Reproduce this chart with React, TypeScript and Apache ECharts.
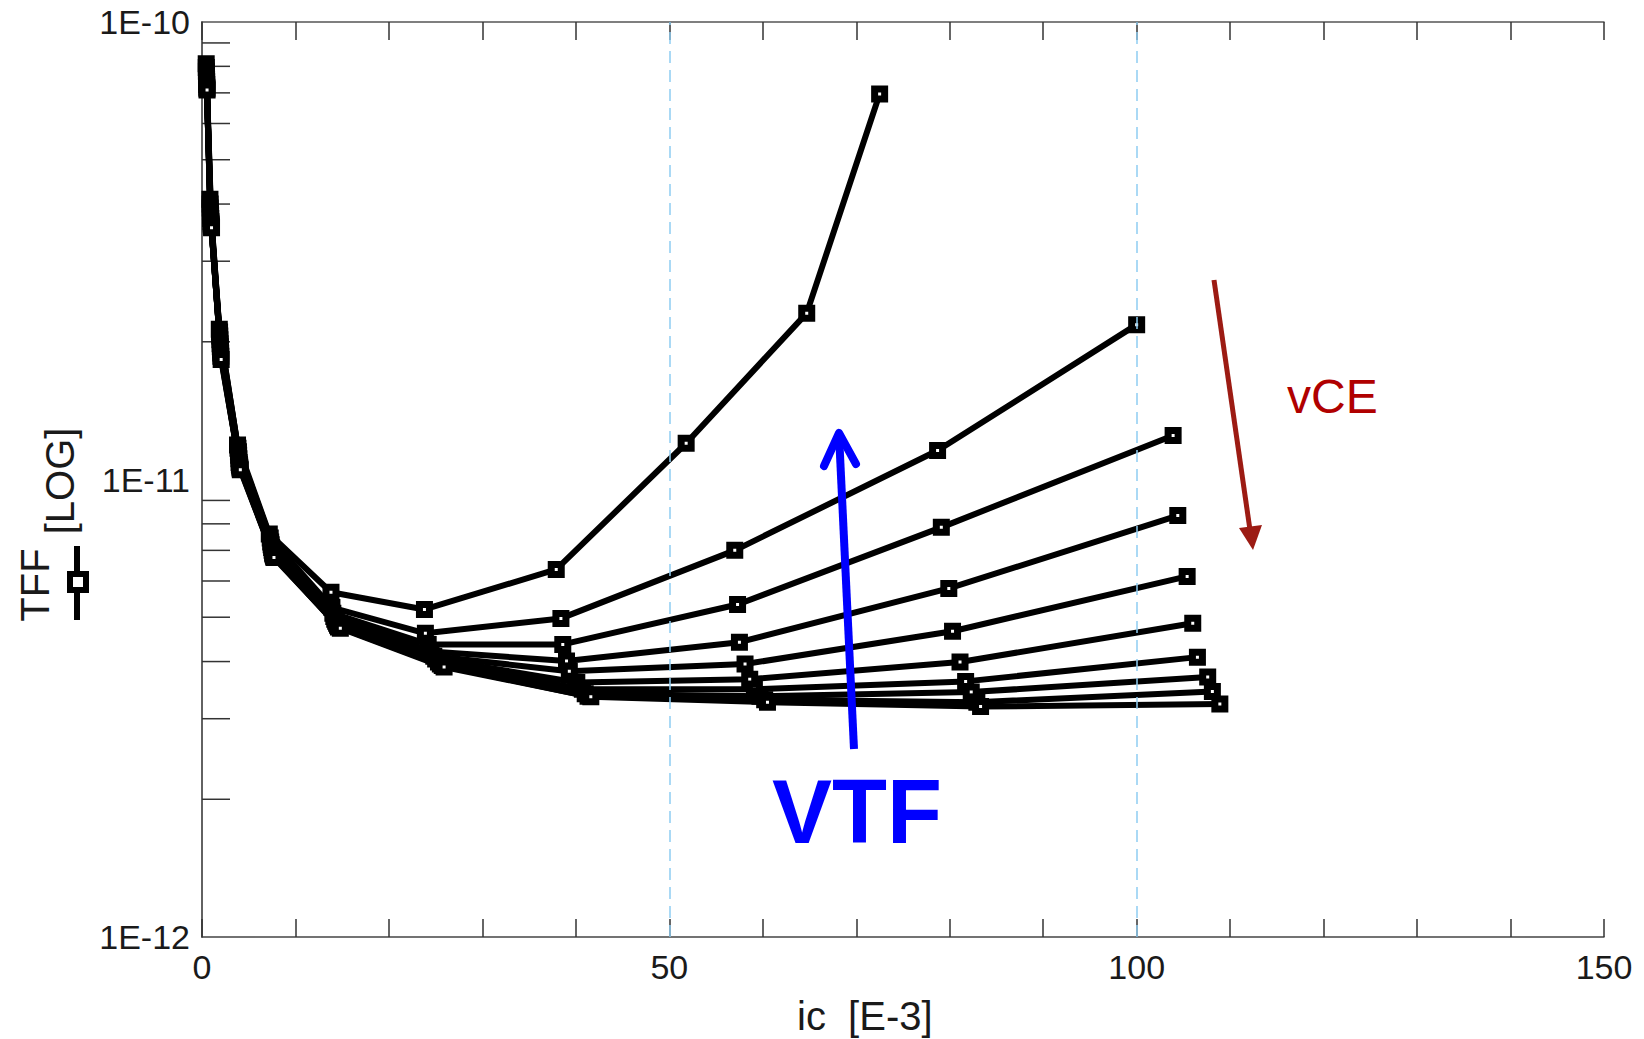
import React, { useEffect, useRef } from "react";
import * as echarts from "echarts";

// ic [E-3] values per vCE curve
const IC_S1 = [0.45, 0.85, 1.85, 3.8, 7.2, 13.8, 23.8, 37.9, 51.8, 64.7, 72.5];
const IC_S2 = [0.46, 0.87, 1.88, 3.85, 7.3, 13.9, 23.9, 38.4, 57.0, 78.7, 100.0];
const IC_S3 = [0.47, 0.88, 1.9, 3.9, 7.35, 14.0, 24.2, 38.6, 57.3, 79.1, 103.9];
const IC_S4 = [0.48, 0.9, 1.92, 3.92, 7.4, 14.1, 24.5, 39.0, 57.5, 79.9, 104.4];
const IC_S5 = [0.49, 0.92, 1.94, 3.95, 7.45, 14.2, 24.8, 39.3, 58.1, 80.3, 105.4];
const IC_S6 = [0.5, 0.94, 1.96, 3.97, 7.5, 14.3, 25.0, 40.1, 58.6, 81.1, 106.0];
const IC_S7 = [0.51, 0.96, 1.98, 4.0, 7.55, 14.4, 25.3, 40.7, 59.1, 81.7, 106.5];
const IC_S8 = [0.52, 0.98, 2.0, 4.03, 7.6, 14.5, 25.5, 41.0, 59.7, 82.3, 107.6];
const IC_S9 = [0.53, 1.0, 2.02, 4.06, 7.65, 14.6, 25.7, 41.3, 60.2, 82.9, 108.1];
const IC_S10 = [0.54, 1.02, 2.05, 4.1, 7.7, 14.8, 25.9, 41.6, 60.5, 83.3, 108.9];

// TFF values per vCE curve
const TFF_S1 = [8.1e-11, 4.1e-11, 2.13e-11, 1.19e-11, 7.6e-12, 5.67e-12, 5.2e-12, 6.36e-12, 1.2e-11, 2.31e-11, 6.96e-11];
const TFF_S2 = [7.95e-11, 4.0e-11, 2.1e-11, 1.17e-11, 7.45e-12, 5.25e-12, 4.61e-12, 4.97e-12, 7.0e-12, 1.157e-11, 2.18e-11];
const TFF_S3 = [7.8e-11, 3.92e-11, 2.06e-11, 1.15e-11, 7.3e-12, 5.1e-12, 4.36e-12, 4.36e-12, 5.33e-12, 7.86e-12, 1.248e-11];
const TFF_S4 = [7.65e-11, 3.85e-11, 2.02e-11, 1.13e-11, 7.2e-12, 5.02e-12, 4.21e-12, 4.01e-12, 4.41e-12, 5.78e-12, 8.34e-12];
const TFF_S5 = [7.5e-11, 3.78e-11, 1.98e-11, 1.11e-11, 7.1e-12, 4.95e-12, 4.11e-12, 3.81e-12, 3.95e-12, 4.66e-12, 6.14e-12];
const TFF_S6 = [7.4e-11, 3.72e-11, 1.95e-11, 1.09e-11, 7.0e-12, 4.9e-12, 4.05e-12, 3.6e-12, 3.66e-12, 3.99e-12, 4.85e-12];
const TFF_S7 = [7.3e-11, 3.66e-11, 1.92e-11, 1.08e-11, 6.9e-12, 4.85e-12, 3.99e-12, 3.48e-12, 3.48e-12, 3.62e-12, 4.09e-12];
const TFF_S8 = [7.2e-11, 3.62e-11, 1.89e-11, 1.07e-11, 6.85e-12, 4.8e-12, 3.95e-12, 3.4e-12, 3.36e-12, 3.43e-12, 3.7e-12];
const TFF_S9 = [7.15e-11, 3.58e-11, 1.86e-11, 1.06e-11, 6.8e-12, 4.76e-12, 3.92e-12, 3.36e-12, 3.3e-12, 3.26e-12, 3.44e-12];
const TFF_S10 = [7.1e-11, 3.55e-11, 1.83e-11, 1.05e-11, 6.75e-12, 4.73e-12, 3.89e-12, 3.35e-12, 3.26e-12, 3.19e-12, 3.23e-12];

const SERIES_IC = [IC_S1, IC_S2, IC_S3, IC_S4, IC_S5, IC_S6, IC_S7, IC_S8, IC_S9, IC_S10];
const SERIES_TFF = [TFF_S1, TFF_S2, TFF_S3, TFF_S4, TFF_S5, TFF_S6, TFF_S7, TFF_S8, TFF_S9, TFF_S10];

const X_LABELS = [0, 50, 100, 150];
const Y_MINOR = [
  2e-12, 3e-12, 4e-12, 5e-12, 6e-12, 7e-12, 8e-12, 9e-12,
  2e-11, 3e-11, 4e-11, 5e-11, 6e-11, 7e-11, 8e-11, 9e-11,
];
const GRID_X = [50, 100];
const GRID_Y = [1e-11];

const FONT = "'Liberation Sans', Arial, Helvetica, sans-serif";

export default function App() {
  const ref = useRef<HTMLDivElement>(null);

  useEffect(() => {
    document.body.style.margin = "0";
    document.body.style.overflow = "hidden";
    const chart = echarts.init(ref.current!, null, { renderer: "svg" });

    const lineSeries = SERIES_IC.map((ic, s) => ({
      type: "line",
      name: "vCE" + (s + 1),
      data: ic.map((x, i) => [x, SERIES_TFF[s][i]]),
      symbol: "rect",
      symbolSize: 10,
      showAllSymbol: true,
      itemStyle: { color: "#ffffff", borderColor: "#000000", borderWidth: 7 },
      lineStyle: { color: "#000000", width: 6 },
      emphasis: { disabled: true },
      z: 3,
    }));

    const option: any = {
      animation: false,
      textStyle: { fontFamily: FONT },
      grid: { left: 202, top: 22, right: 40, bottom: 102, containLabel: false },
      xAxis: [
        {
          type: "value",
          position: "bottom",
          min: 0,
          max: 150,
          interval: 10,
          axisLine: { show: true, lineStyle: { color: "#444", width: 1.5 } },
          axisTick: { show: true, inside: true, length: 18, lineStyle: { color: "#333", width: 1.5 } },
          axisLabel: {
            show: true,
            margin: 13,
            fontSize: 34,
            color: "#1a1a1a",
            fontFamily: FONT,
            showMinLabel: true,
            showMaxLabel: true,
            formatter: (v: number) => (X_LABELS.includes(v) ? String(v) : ""),
          },
          splitLine: { show: false },
        },
        {
          type: "value",
          position: "top",
          min: 0,
          max: 150,
          interval: 10,
          axisLine: { show: true, lineStyle: { color: "#555", width: 1.5 } },
          axisTick: { show: true, inside: true, length: 18, lineStyle: { color: "#333", width: 1.5 } },
          axisLabel: { show: false },
          splitLine: { show: false },
        },
      ],
      yAxis: [
        {
          type: "log",
          logBase: 10,
          position: "left",
          min: 1e-12,
          max: 1e-10,
          axisLine: { show: true, lineStyle: { color: "#222", width: 1.5 } },
          axisTick: { show: false },
          axisLabel: {
            show: true,
            margin: 12,
            fontSize: 34,
            color: "#1a1a1a",
            fontFamily: FONT,
            formatter: (v: number) => "1E" + Math.round(Math.log10(v)),
          },
          splitLine: { show: false },
        },
        {
          type: "log",
          logBase: 10,
          position: "right",
          min: 1e-12,
          max: 1e-10,
          axisLine: { show: true, lineStyle: { color: "#666", width: 1.5 } },
          axisTick: { show: false },
          axisLabel: { show: false },
          splitLine: { show: false },
        },
      ],
      series: [
        {
          type: "custom",
          name: "minorTicks",
          xAxisIndex: 0,
          yAxisIndex: 0,
          z: 1,
          silent: true,
          data: Y_MINOR.map((v) => [0, v]),
          renderItem: (_params: any, api: any) => {
            const p = api.coord([api.value(0), api.value(1)]);
            return {
              type: "line",
              shape: { x1: p[0], y1: p[1], x2: p[0] + 28, y2: p[1] },
              style: { stroke: "#333", lineWidth: 1.5 },
            };
          },
          markLine: {
            silent: true,
            symbol: "none",
            label: { show: false },
            lineStyle: { color: "#8fcdf2", type: [12, 7], width: 1.5 },
            data: [
              ...GRID_X.map((x) => ({ xAxis: x })),
              ...GRID_Y.map((y) => ({ yAxis: y })),
            ],
          },
        },
        ...lineSeries,
      ],
      graphic: [
        // x axis name
        {
          type: "text",
          left: 797,
          top: 996,
          style: { text: "ic  [E-3]", font: `40px ${FONT}`, fill: "#1a1a1a" },
        },
        // y axis title: TFF
        {
          type: "text",
          x: 35,
          y: 585,
          rotation: Math.PI / 2,
          style: {
            text: "TFF",
            font: `40px ${FONT}`,
            fill: "#1a1a1a",
            align: "center",
            verticalAlign: "middle",
          },
        },
        // y axis title: [LOG]
        {
          type: "text",
          x: 60,
          y: 481,
          rotation: Math.PI / 2,
          style: {
            text: "[LOG]",
            font: `40px ${FONT}`,
            fill: "#1a1a1a",
            align: "center",
            verticalAlign: "middle",
          },
        },
        // legend symbol
        {
          type: "line",
          shape: { x1: 77, y1: 546, x2: 77, y2: 620 },
          style: { stroke: "#000", lineWidth: 6 },
        },
        {
          type: "rect",
          shape: { x: 70, y: 574, width: 16, height: 16 },
          style: { fill: "#fff", stroke: "#000", lineWidth: 6 },
        },
        // blue arrow VTF
        {
          type: "line",
          shape: { x1: 854, y1: 749, x2: 839, y2: 434 },
          style: { stroke: "#0000ff", lineWidth: 8, lineCap: "butt" },
          z: 10,
        },
        {
          type: "polyline",
          shape: { points: [[824, 466], [839, 433], [856, 464]] },
          style: { stroke: "#0000ff", lineWidth: 8, lineCap: "round", lineJoin: "round", fill: null },
          z: 10,
        },
        {
          type: "text",
          x: 857,
          y: 812,
          style: {
            text: "VTF",
            font: `bold 90px ${FONT}`,
            fill: "#0000ff",
            align: "center",
            verticalAlign: "middle",
          },
          z: 10,
        },
        // red arrow vCE
        {
          type: "line",
          shape: { x1: 1214, y1: 280, x2: 1250, y2: 530 },
          style: { stroke: "#9c1b13", lineWidth: 5 },
          z: 10,
        },
        {
          type: "polygon",
          shape: { points: [[1253, 550], [1239, 528], [1262, 525]] },
          style: { fill: "#9c1b13" },
          z: 10,
        },
        {
          type: "text",
          x: 1287,
          y: 396,
          style: {
            text: "vCE",
            font: `48px ${FONT}`,
            fill: "#b00000",
            align: "left",
            verticalAlign: "middle",
          },
          z: 10,
        },
      ],
    };

    chart.setOption(option);
    return () => chart.dispose();
  }, []);

  return <div ref={ref} style={{ width: 1644, height: 1039 }} />;
}
